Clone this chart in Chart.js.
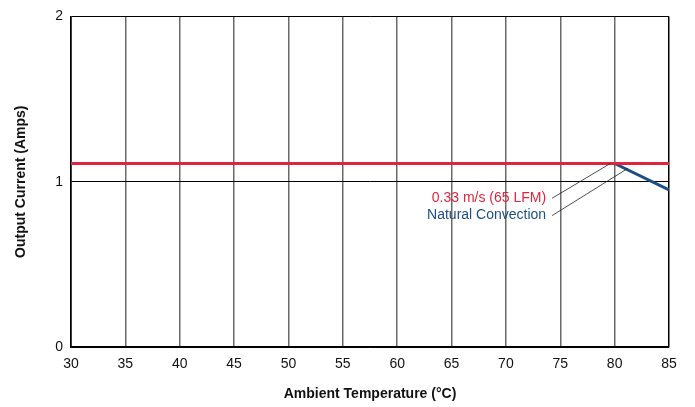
<!DOCTYPE html>
<html>
<head>
<meta charset="utf-8">
<script src="https://cdn.jsdelivr.net/npm/chart.js@4.4.0/dist/chart.umd.min.js"></script>
<style>
  html, body { margin: 0; padding: 0; background: #fff; }
  #wrap { width: 695px; height: 407px; }
</style>
</head>
<body>
<div id="wrap"><canvas id="myChart" width="695" height="407"></canvas></div>
<script>
// Data
const tempTicks = [30, 35, 40, 45, 50, 55, 60, 65, 70, 75, 80, 85]
const currentTicks = [0, 1, 2]

const airflowTemps = [30, 85]
const airflowCurrent = [1.11, 1.11]

const naturalTemps = [30, 80, 85]
const naturalCurrent = [1.11, 1.11, 0.95]

// label text, colour, leader line tip (in data units)
const labels = [
    { text: "0.33 m/s (65 LFM)", color: "#e2233f", tipX: 79.6, tipY: 1.11, textY: 0.90 },
    { text: "Natural Convection", color: "#1a5086", tipX: 81.2, tipY: 1.08, textY: 0.795 }
]

const FONT = "'Liberation Sans Narrow', 'Arial Narrow', 'Liberation Sans', Arial, sans-serif"

const toPoints = (xs, ys) => xs.map((x, i) => ({ x: x, y: ys[i] }))

// Draws the two callout labels with their leader lines
const calloutPlugin = {
    id: "callouts",
    afterDatasetsDraw(chart) {
        const { ctx, scales } = chart
        const xs = scales.x, ys = scales.y
        ctx.save()
        ctx.font = "14px " + FONT
        ctx.textAlign = "right"
        ctx.textBaseline = "middle"
        labels.forEach((l) => {
            const textRight = xs.getPixelForValue(73.7)
            const ty = ys.getPixelForValue(l.textY)
            ctx.fillStyle = l.color
            ctx.fillText(l.text, textRight, ty)
            ctx.strokeStyle = "#222"
            ctx.lineWidth = 0.8
            ctx.beginPath()
            ctx.moveTo(textRight + 6, ty)
            ctx.lineTo(xs.getPixelForValue(l.tipX), ys.getPixelForValue(l.tipY))
            ctx.stroke()
        })
        ctx.restore()
    }
}

let myChart = document.getElementById("myChart").getContext("2d")

new Chart(myChart, {
    type: "scatter",
    data: {
        datasets: [{
            label: "Natural Convection",
            data: toPoints(naturalTemps, naturalCurrent),
            showLine: true,
            borderColor: "#1a5086",
            borderWidth: 3,
            pointRadius: 0,
            order: 2
        }, {
            label: "0.33 m/s (65 LFM)",
            data: toPoints(airflowTemps, airflowCurrent),
            showLine: true,
            borderColor: "#e2233f",
            borderWidth: 3,
            pointRadius: 0,
            order: 1
        }]
    },
    options: {
        responsive: false,
        animation: false,
        layout: { padding: { top: 15, right: 26, left: 0, bottom: 0 } },
        plugins: {
            legend: { display: false },
            tooltip: { enabled: false }
        },
        scales: {
            x: {
                type: "linear",
                min: 30,
                max: 85,
                afterBuildTicks: (axis) => { axis.ticks = tempTicks.map(v => ({ value: v })) },
                afterFit: (axis) => { axis.height = 60 },
                border: { display: true, color: "#000", width: 1.5 },
                grid: {
                    color: (c) => (c.tick && (c.tick.value === 30 || c.tick.value === 85)) ? "#000" : "#6a6a6a",
                    lineWidth: 1.5,
                    drawTicks: false
                },
                ticks: {
                    color: "#111",
                    padding: 9,
                    maxRotation: 0,
                    autoSkip: false,
                    font: { family: FONT, size: 14 }
                },
                title: {
                    display: true,
                    text: "Ambient Temperature (°C)",
                    color: "#111",
                    font: { family: FONT, size: 14, weight: "bold" },
                    padding: { top: 16 }
                }
            },
            y: {
                min: 0,
                max: 2,
                afterBuildTicks: (axis) => { axis.ticks = currentTicks.map(v => ({ value: v })) },
                afterFit: (axis) => { axis.width = 71 },
                border: { display: true, color: "#000", width: 1.5 },
                grid: {
                    color: "#000",
                    lineWidth: 1,
                    drawTicks: false
                },
                ticks: {
                    color: "#111",
                    padding: 8,
                    font: { family: FONT, size: 14 }
                },
                title: {
                    display: true,
                    text: "Output Current (Amps)",
                    color: "#111",
                    font: { family: FONT, size: 14, weight: "bold" },
                    padding: { top: 13, bottom: 7 }
                }
            }
        }
    },
    plugins: [calloutPlugin]
})
</script>
</body>
</html>
